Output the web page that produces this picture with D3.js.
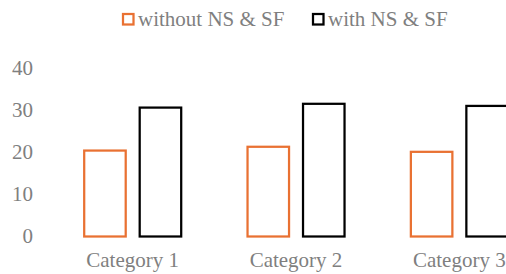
<!DOCTYPE html>
<html>
<head>
<meta charset="utf-8">
<script src="https://cdn.jsdelivr.net/npm/d3@7"></script>
</head>
<body style="margin:0">
<svg id="chart" width="506" height="274"></svg>
<script>
const categories = ["Category 1", "Category 2", "Category 3"];
const seriesNames = ["without NS & SF", "with NS & SF"];
const withoutValues = [20.4, 21.3, 20.1];
const withValues = [30.6, 31.5, 31.0];
const yTicks = [0, 10, 20, 30, 40];
const colors = ["#e97132", "#000000"];

const svg = d3.select("#chart");

// plot extends past the right edge, like the source picture
const x0 = d3.scaleBand().domain(categories).range([51, 541]);
const x1 = d3.scaleBand().domain(seriesNames).range([33.2, 130.2]).paddingInner(0.252);
const y = d3.scaleLinear().domain([0, 40]).range([236.5, 68]);

const rows = categories.map((c, i) => ({
  cat: c,
  vals: [withoutValues[i], withValues[i]]
}));

// all text goes straight under the svg root
const labels = [];
yTicks.forEach(t => labels.push({ text: String(t), x: 33, y: y(t), dy: "0.32em", anchor: "end" }));
categories.forEach(c => labels.push({ text: c, x: x0(c) + x0.bandwidth() / 2, y: 267, dy: 0, anchor: "middle" }));
const legendX = [122, 312];
seriesNames.forEach((s, i) => labels.push({ text: s, x: legendX[i] + 16, y: 25.5, dy: 0, anchor: "start" }));

svg.selectAll("text")
  .data(labels)
  .join("text")
  .attr("x", d => d.x)
  .attr("y", d => d.y)
  .attr("dy", d => d.dy)
  .attr("text-anchor", d => d.anchor)
  .style("font-family", "\"Liberation Serif\"", "important")
  .style("font-size", "21px")
  .style("fill", "#7f7f7f")
  .text(d => d.text);

// legend boxes
svg.selectAll("rect.key")
  .data(seriesNames)
  .join("rect")
  .attr("class", "key")
  .attr("x", (d, i) => legendX[i] + 1)
  .attr("y", 14)
  .attr("width", 10.5)
  .attr("height", 10.5)
  .attr("fill", "#fff")
  .attr("stroke", (d, i) => colors[i])
  .attr("stroke-width", 2.25);

// bars
const groups = svg.selectAll("g.cat")
  .data(rows)
  .join("g")
  .attr("class", "cat")
  .attr("transform", d => `translate(${x0(d.cat)},0)`);

groups.selectAll("rect")
  .data(d => d.vals.map((v, i) => ({ name: seriesNames[i], v, i })))
  .join("rect")
  .attr("x", d => x1(d.name))
  .attr("y", d => y(d.v))
  .attr("width", x1.bandwidth())
  .attr("height", d => y(0) - y(d.v))
  .attr("fill", "#fff")
  .attr("stroke", d => colors[d.i])
  .attr("stroke-width", 2.25);
</script>
</body>
</html>
